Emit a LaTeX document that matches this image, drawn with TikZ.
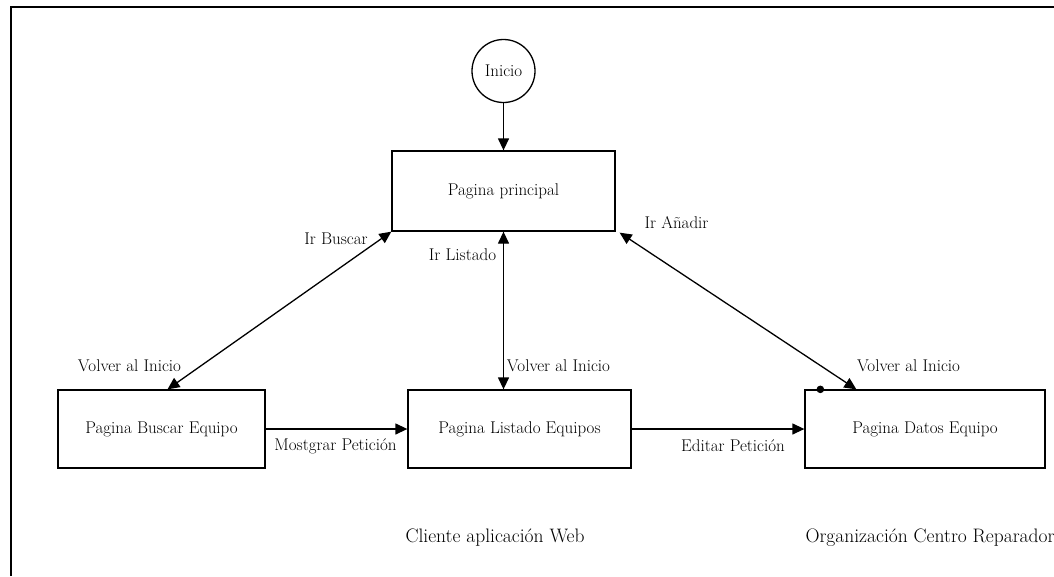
\documentclass[tikz,border=0pt]{standalone}
\usepackage{fontspec}
\usetikzlibrary{arrows.meta,calc}
\begin{document}
\begin{tikzpicture}[x=1pt,y=-1pt,
  every node/.style={font=\fontsize{17}{20}\selectfont},
  page/.style={draw,line width=1.3pt,rectangle,inner sep=0pt},
  startnode/.style={draw,line width=1.3pt,circle,minimum size=63pt,inner sep=0pt},
  link/.style={line width=1.3pt,-{Triangle[length=12pt,width=11pt]}},
  twoway/.style={line width=1.3pt,{Triangle[length=12pt,width=11pt]}-{Triangle[length=12pt,width=11pt]}},
  lbl/.style={inner sep=1pt},
  caption/.style={inner sep=1pt,font=\fontsize{19.5}{23}\selectfont}]
\useasboundingbox (0,0) rectangle (1054,576);
% outer frame
\draw[line width=2pt] (11,576) -- (11,7) -- (1054,7);

% pages
\node[startnode] (inicio) at (503.5,71) {Inicio};
\node[page,minimum width=223pt,minimum height=80pt] (principal) at (503.5,191) {Pagina principal};
\node[page,minimum width=207pt,minimum height=78pt] (buscar) at (161.5,429) {Pagina Buscar Equipo};
\node[page,minimum width=223pt,minimum height=78pt] (listado) at (519.5,429) {Pagina Listado Equipos};
\node[page,minimum width=240pt,minimum height=78pt] (datos) at (925,429) {Pagina Datos Equipo};

% connectors
\draw[link] (inicio) -- (principal);
\draw[link] (buscar) -- (listado);
\draw[link] (listado) -- (datos);
\draw[twoway] ($(buscar.north)+(6,0)$) -- (principal.south west);
\draw[twoway] (principal.south) -- (principal.south |- listado.north);
\draw[twoway] ($(datos.north west)+(52,0)$) -- ($(principal.south east)+(4,1)$);
\fill ($(datos.north west)+(16,0)$) circle (3.8pt);

% edge labels
\node[lbl] (lbuscar) at (336,239) {Ir Buscar};
\node[lbl] (lvolver1) at (129.5,366) {Volver al Inicio};
\node[lbl] (llistado) at (462.5,255) {Ir Listado};
\node[lbl] (lvolver2) at (558.5,366) {Volver al Inicio};
\node[lbl] (lanadir) at (676.5,223) {Ir Añadir};
\node[lbl] (lvolver3) at (908.5,366) {Volver al Inicio};
\node[lbl] (lmostrar) at (335.5,446) {Mostgrar Petición};
\node[lbl] (leditar) at (733,446) {Editar Petición};

% area captions
\node[caption] (cliente) at (495,538) {Cliente aplicación Web};
\node[caption] (organizacion) at (930,538) {Organización Centro Reparador};
\end{tikzpicture}
\end{document}
